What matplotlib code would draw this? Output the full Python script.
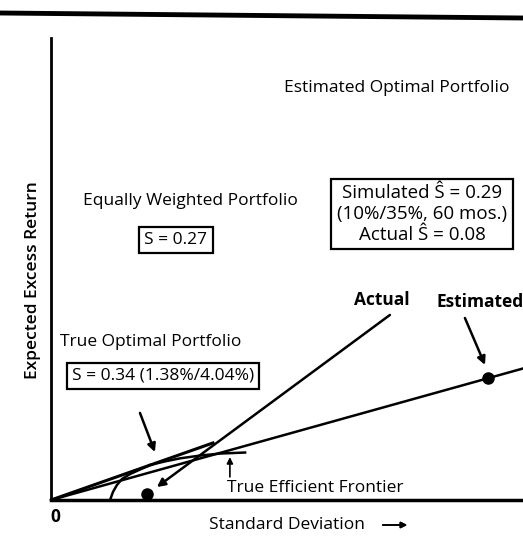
import matplotlib
matplotlib.use("Agg")
import matplotlib.pyplot as plt
from matplotlib.lines import Line2D

plt.rcParams['font.family'] = ['Open Sans', 'DejaVu Sans']

# true efficient frontier (std dev %, excess return %)
frontier_sd = [2.41, 2.53, 2.69, 2.90, 3.22, 3.63, 4.04, 4.65, 5.26, 6.08, 6.90, 7.92]
frontier_ret = [0.00, 0.32, 0.59, 0.83, 1.02, 1.20, 1.38, 1.52, 1.64, 1.75, 1.83, 1.87]

# capital lines from the origin
true_sharpe = 0.34
true_line_end = 6.61
est_sharpe = 0.269
est_line_end = 19.26

# portfolios
est_point = (17.83, 4.80)
actual_point = (3.92, 0.24)
actual_start = (13.83, 7.29)
actual_end = (4.32, 0.51)


def px(x, y):
    # pixel position -> data coords
    return (x - 51) * 0.0408, (500 - y) * 0.0394


fig = plt.figure(figsize=(5.23, 5.36), dpi=100)
ax = fig.add_axes([51 / 523, 36 / 536, 472 / 523, 462 / 536])
ax.set_xlim(0, 19.26)
ax.set_ylim(0, 18.2)
ax.set_xticks([])
ax.set_yticks([])
for s in ['top', 'right']:
    ax.spines[s].set_visible(False)
ax.spines['left'].set_linewidth(2)
ax.spines['bottom'].set_linewidth(2.5)

lw = 1.8
ax.plot(frontier_sd, frontier_ret, color='black', lw=lw, clip_on=False)
ax.plot([0, true_line_end], [0, true_sharpe * true_line_end], color='black', lw=2.2)
ax.plot([0, est_line_end], [0, est_sharpe * est_line_end], color='black', lw=lw, clip_on=False)
ax.plot(*est_point, 'o', color='black', ms=8, clip_on=False)
ax.plot(*actual_point, 'o', color='black', ms=8, clip_on=False)

arrow = dict(arrowstyle='-|>', color='black', lw=lw, mutation_scale=12, shrinkA=0, shrinkB=0)
ax.annotate('', xy=actual_end, xytext=actual_start, arrowprops=arrow)
ax.annotate('', xy=(4.24, 1.89), xytext=(3.63, 3.43), arrowprops=arrow)
ax.annotate('', xy=(17.71, 5.32), xytext=(16.89, 7.17), arrowprops=arrow)
ax.annotate('', xy=(7.30, 1.69), xytext=(7.30, 0.91), arrowprops=dict(arrow, lw=1.2, mutation_scale=9))

fs = 12.5
box = dict(boxstyle='square,pad=0.3', fc='white', ec='black', lw=1.6)
ax.text(*px(397, 88), 'Estimated Optimal Portfolio', fontsize=fs, ha='center', va='center')
ax.text(*px(422, 214), 'Simulated Ŝ = 0.29\n(10%/35%, 60 mos.)\nActual Ŝ = 0.08', fontsize=13.5,
        ha='center', va='center', linespacing=1.2, bbox=dict(box, pad=0.55))
ax.text(*px(190, 201), 'Equally Weighted Portfolio', fontsize=fs, ha='center', va='center')
ax.text(*px(176, 240), 'S = 0.27', fontsize=fs, ha='center', va='center', bbox=box)
ax.text(*px(60, 342), 'True Optimal Portfolio', fontsize=fs, ha='left', va='center')
ax.text(*px(163, 376), 'S = 0.34 (1.38%/4.04%)', fontsize=fs, ha='center', va='center', bbox=box)
ax.text(*px(382, 300), 'Actual', fontsize=fs, ha='center', va='center', fontweight='bold')
ax.text(*px(480, 302), 'Estimated', fontsize=fs, ha='center', va='center', fontweight='bold')
ax.text(*px(227, 488), 'True Efficient Frontier', fontsize=fs, ha='left', va='center')

fig.text(33 / 523, 1 - 280 / 536, 'Expected Excess Return', rotation=90, fontsize=fs,
         ha='center', va='center', fontweight='semibold')
fig.text(55 / 523, 1 - 517 / 536, '0', fontsize=fs, ha='center', va='center', fontweight='bold')
fig.text(287 / 523, 1 - 525 / 536, 'Standard Deviation', fontsize=fs, ha='center', va='center')
fig.add_artist(plt.annotate('', xy=(410 / 523, 1 - 525 / 536), xytext=(380 / 523, 1 - 525 / 536),
                            xycoords='figure fraction', textcoords='figure fraction',
                            arrowprops=dict(arrowstyle='-|>', color='black', lw=1.2, mutation_scale=9)))
fig.add_artist(Line2D([0, 1], [1 - 13 / 536, 1 - 18 / 536], transform=fig.transFigure,
                      lw=3.5, color='black'))

fig.savefig('out.png', dpi=100)
